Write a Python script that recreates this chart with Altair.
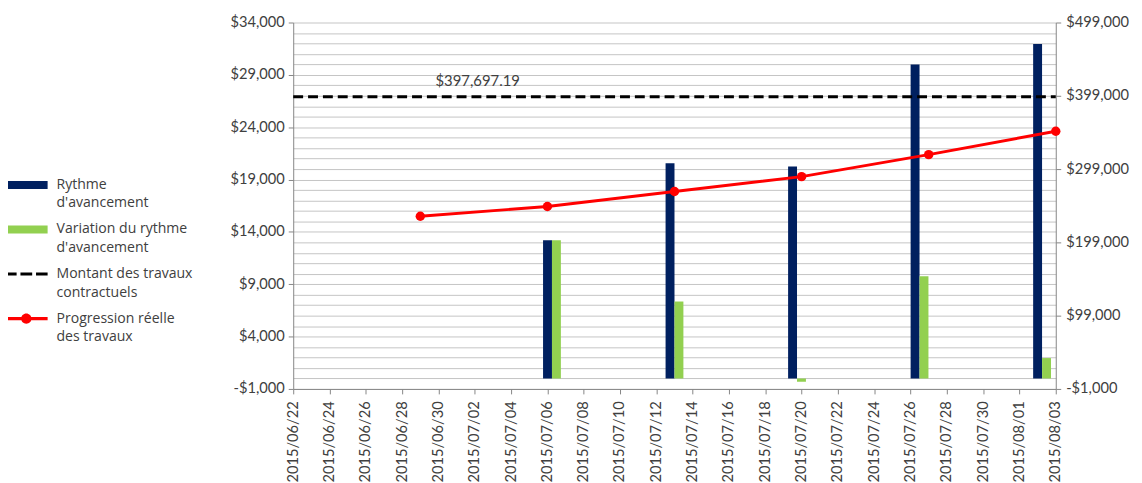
import json
import pandas as pd
import altair as alt

# ---------------- data ----------------
BAR_DATES = ["2015-07-06", "2015-07-13", "2015-07-20", "2015-07-27", "2015-08-03"]
RYTHME = [13200, 20550, 20240, 30000, 31950]
VARIATION = [13200, 7350, -310, 9760, 1950]

LINE_DATES = ["2015-06-29", "2015-07-06", "2015-07-13", "2015-07-20", "2015-07-27", "2015-08-03"]
PROGRESSION = [234700, 247900, 268450, 288690, 318690, 350640]

CONTRACT_DATES = ["2015-06-22", "2015-08-03"]
CONTRACT_VALUE = 397697.19
CONTRACT_LABEL_DATE = "2015-06-30"

X_TICKS = ["2015-06-22", "2015-06-24", "2015-06-26", "2015-06-28", "2015-06-30",
           "2015-07-02", "2015-07-04", "2015-07-06", "2015-07-08", "2015-07-10",
           "2015-07-12", "2015-07-14", "2015-07-16", "2015-07-18", "2015-07-20",
           "2015-07-22", "2015-07-24", "2015-07-26", "2015-07-28", "2015-07-30",
           "2015-08-01", "2015-08-03"]
LEFT_TICKS = [-1000, 4000, 9000, 14000, 19000, 24000, 29000, 34000]
RIGHT_TICKS = [-1000, 99000, 199000, 299000, 399000, 499000]

SERIES = ["Rythme d'avancement", "Variation du rythme d'avancement",
          "Montant des travaux contractuels", "Progression réelle des travaux"]
LEGEND_LINES = [["Rythme", "d'avancement"], ["Variation du rythme", "d'avancement"],
                ["Montant des travaux", "contractuels"], ["Progression réelle", "des travaux"]]

# ---------------- style ----------------
NAVY = "#002060"
GREEN = "#92D050"
RED = "#FF0000"
TEXT = "#404040"
FONT = "Lato"
LEGEND_FONT = "Open Sans"
W, H = 770, 370

SX = 1.162  # legend symbol half-width in path units
SHAPES = [
    f"M-{SX},-0.22L{SX},-0.22L{SX},0.22L-{SX},0.22Z",
    f"M-{SX},-0.22L{SX},-0.22L{SX},0.22L-{SX},0.22Z",
    f"M-{SX},-0.084L-0.53,-0.084L-0.53,0.084L-{SX},0.084Z "
    f"M-0.32,-0.084L0.32,-0.084L0.32,0.084L-0.32,0.084Z "
    f"M0.53,-0.084L{SX},-0.084L{SX},0.084L0.53,0.084Z",
    f"M-{SX},-0.084L{SX},-0.084L{SX},0.084L-{SX},0.084Z "
    f"M0.285,0A0.285,0.285 0 1,1 -0.285,0A0.285,0.285 0 1,1 0.285,0Z",
]
COLORS = [NAVY, GREEN, "#000000", RED]


def ms(s):
    return int(pd.Timestamp(s, tz="UTC").value // 10**6)


HALF_DAY = 12 * 3600 * 1000

bars_df = pd.DataFrame({"date": BAR_DATES, "rythme": RYTHME, "variation": VARIATION})
line_df = pd.DataFrame({"date": LINE_DATES, "value": PROGRESSION})
contract_df = pd.DataFrame({"date": CONTRACT_DATES, "value": [CONTRACT_VALUE] * len(CONTRACT_DATES)})
label_df = pd.DataFrame({"date": [CONTRACT_LABEL_DATE], "value": [CONTRACT_VALUE],
                         "text": [f"${CONTRACT_VALUE:,.2f}"]})
legend_df = pd.DataFrame({"series": SERIES})

bar_x_scale = alt.Scale(type="utc", domain=[ms(X_TICKS[0]) - HALF_DAY, ms(X_TICKS[-1]) + HALF_DAY], nice=False)
line_x_scale = alt.Scale(type="utc", domain=[ms(X_TICKS[0]), ms(X_TICKS[-1])], nice=False)
left_y_scale = alt.Scale(domain=[LEFT_TICKS[0], LEFT_TICKS[-1]], nice=False, zero=False)
right_y_scale = alt.Scale(domain=[RIGHT_TICKS[0], RIGHT_TICKS[-1]], nice=False, zero=False)

money = "(datum.value < 0 ? '-$' : '$') + format(abs(datum.value), ',')"
is_major = f"indexof({json.dumps(LEFT_TICKS)}, datum.value) >= 0"
left_grid = list(range(LEFT_TICKS[0], LEFT_TICKS[-1] + 1, 1000))

left_axis = alt.Axis(
    orient="left", values=left_grid, grid=True, labelOverlap=False, labelFlush=False,
    labelExpr=f"{is_major} ? {money} : ''",
    tickOpacity={"condition": {"test": is_major, "value": 1}, "value": 0},
    title=None, labelPadding=4,
)
right_axis = alt.Axis(
    orient="right", values=RIGHT_TICKS, grid=False, labelOverlap=False, labelFlush=False,
    labelExpr=money, title=None, labelPadding=5,
)
x_axis = alt.Axis(
    values=[ms(d) for d in X_TICKS], labelExpr="utcFormat(datum.value, '%Y/%m/%d')",
    labelAngle=270, labelFlush=False, labelOverlap=False, grid=False, title=None,
    labelPadding=7,
)

bar_dark = alt.Chart(bars_df).mark_bar(color=NAVY, width=9, xOffset=-4.5).encode(
    x=alt.X("date:T", scale=bar_x_scale, axis=None),
    y=alt.Y("rythme:Q", scale=left_y_scale, axis=left_axis),
)
bar_green = alt.Chart(bars_df).mark_bar(color=GREEN, width=9, xOffset=4.5).encode(
    x=alt.X("date:T", scale=bar_x_scale, axis=None),
    y=alt.Y("variation:Q", scale=left_y_scale, axis=left_axis),
)
left_layer = alt.layer(bar_dark, bar_green)

x_enc = alt.X("date:T", scale=line_x_scale, axis=x_axis)
y_enc = alt.Y("value:Q", scale=right_y_scale, axis=right_axis)

contract = alt.Chart(contract_df).mark_line(color="#000000", strokeWidth=3, strokeDash=[10, 5]).encode(
    x=x_enc, y=y_enc)
prog_line = alt.Chart(line_df).mark_line(color=RED, strokeWidth=3).encode(x=x_enc, y=y_enc)
prog_pts = alt.Chart(line_df).mark_circle(color=RED, size=90, opacity=1).encode(x=x_enc, y=y_enc)
label = alt.Chart(label_df).mark_text(
    align="left", baseline="bottom", dx=-3, dy=-8, fontSize=15, color=TEXT, font=FONT
).encode(x=x_enc, y=y_enc, text="text:N")

legend_expr = " : ".join(
    f"datum.label === {json.dumps(n)} ? {json.dumps(l)}" for n, l in zip(SERIES, LEGEND_LINES)
) + " : datum.label"
leg = alt.Legend(
    orient="none", legendX=-288, legendY=145.5, title=None, symbolSize=1369,
    symbolStrokeWidth=0, labelExpr=legend_expr, labelFontSize=14.2, labelColor=TEXT,
    labelFont=LEGEND_FONT, labelOffset=12, rowPadding=0, padding=0, labelLimit=300,
)
legend_layer = alt.Chart(legend_df).mark_point(filled=True, opacity=1).encode(
    color=alt.Color("series:N", scale=alt.Scale(domain=SERIES, range=COLORS), legend=leg),
    shape=alt.Shape("series:N", scale=alt.Scale(domain=SERIES, range=SHAPES), legend=leg),
).transform_filter("false")

right_layer = alt.layer(contract, prog_line, prog_pts, label, legend_layer)

chart = alt.layer(left_layer, right_layer).resolve_scale(
    x="independent", y="independent"
).properties(
    width=W, height=H, padding={"left": 0, "top": 4.3, "right": 5, "bottom": 5}
).configure(
    font=FONT, style={"guide-label": {"lineHeight": 18.7}}
).configure_axis(
    labelFont=FONT, labelFontSize=14.8, labelColor=TEXT, domainColor="#868686",
    tickColor="#868686", tickSize=5, gridColor="#c4c4c4", gridWidth=1,
).configure_view(stroke=None)

chart.save("out.html", embed_options={"renderer": "svg", "actions": False})
